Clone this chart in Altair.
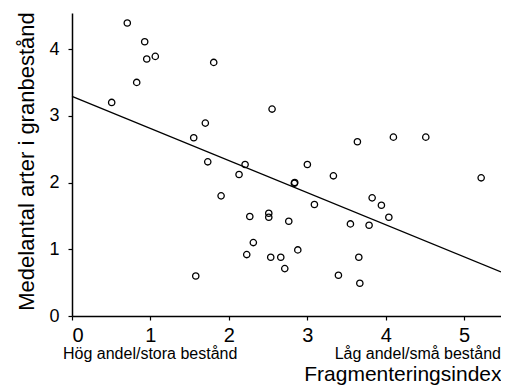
import altair as alt
import pandas as pd

# Scatter points
xs = [0.705, 0.927, 0.953, 1.062, 0.825, 0.506, 1.807, 2.551, 1.700, 1.552,
      1.731, 2.207, 3.001, 3.639, 4.098, 4.511, 5.217, 2.130, 1.901, 2.267,
      2.509, 2.509, 2.764, 2.312, 2.228, 2.534, 2.662, 2.713, 1.578, 3.333,
      2.835, 2.840, 3.827, 3.945, 3.091, 4.040, 3.550, 3.788, 2.879, 3.657,
      3.397, 3.670]
ys = [4.39, 4.11, 3.85, 3.89, 3.50, 3.20, 3.80, 3.10, 2.89, 2.67,
      2.31, 2.27, 2.27, 2.61, 2.68, 2.68, 2.07, 2.12, 1.80, 1.49,
      1.54, 1.48, 1.42, 1.10, 0.92, 0.88, 0.88, 0.71, 0.60, 2.10,
      1.99, 2.00, 1.77, 1.66, 1.67, 1.48, 1.38, 1.36, 0.99, 0.88,
      0.61, 0.49]

# Regression line end points
line_x = [0.0, 5.47]
line_y = [3.29, 0.66]

sub_labels = ["Hög andel/stora bestånd", "Låg andel/små bestånd"]
sub_x = [0.0, 5.47]

x_title = "Fragmenteringsindex"
y_title = "Medelantal arter i granbestånd"
x_ticks = [0, 1, 2, 3, 4, 5]
y_ticks = [0, 1, 2, 3, 4]

FONT = "Liberation Sans"
W, H = 429, 303

pts = pd.DataFrame({"x": xs, "y": ys})
ln = pd.DataFrame({"x": line_x, "y": line_y})
lab_left = pd.DataFrame({"x": [sub_x[0]], "t": [sub_labels[0]]})
lab_right = pd.DataFrame({"x": [sub_x[1]], "t": [sub_labels[1]]})

xscale = alt.Scale(domain=[0, 5.47], nice=False, zero=False)
yscale = alt.Scale(domain=[0, 4.54], nice=False, zero=False)

xaxis = alt.Axis(values=x_ticks, format="d", grid=False, domainColor="black",
                 domainWidth=1.5, tickColor="black", tickSize=4, tickWidth=1.2,
                 labelFont=FONT, labelFontSize=20, labelColor="black", labelPadding=5,
                 title=x_title, titleFont=FONT, titleFontSize=21, titleFontWeight="normal",
                 titleColor="black", titleAlign="right", titleAnchor="end",
                 titleX=W, titleY=64, titleBaseline="alphabetic")
yaxis = alt.Axis(values=y_ticks, format="d", grid=False, domainColor="black",
                 domainWidth=1.5, tickColor="black", tickSize=4, tickWidth=1.2,
                 labelFont=FONT, labelFontSize=18, labelColor="black", labelPadding=9,
                 title=y_title, titleFont=FONT, titleFontSize=22, titleFontWeight="normal",
                 titleColor="black", titleX=-39, titleY=148, titleAngle=-90,
                 titleBaseline="alphabetic", titleAlign="center")

points = alt.Chart(pts).mark_point(shape="circle", filled=False, color="black",
                                   size=40, strokeWidth=1.3, opacity=1).encode(
    x=alt.X("x:Q", scale=xscale, axis=xaxis),
    y=alt.Y("y:Q", scale=yscale, axis=yaxis),
)

line = alt.Chart(ln).mark_line(color="black", strokeWidth=1.3).encode(
    x=alt.X("x:Q", scale=xscale),
    y=alt.Y("y:Q", scale=yscale),
)

t_left = alt.Chart(lab_left).mark_text(font=FONT, fontSize=16, align="left",
                                       baseline="alphabetic", color="black", dx=-9).encode(
    x=alt.X("x:Q", scale=xscale), y=alt.value(H + 43), text="t:N")
t_right = alt.Chart(lab_right).mark_text(font=FONT, fontSize=16, align="right",
                                         baseline="alphabetic", color="black", dx=0).encode(
    x=alt.X("x:Q", scale=xscale), y=alt.value(H + 43), text="t:N")

chart = alt.layer(line, points, t_left, t_right).properties(
    width=W, height=H,
    autosize=alt.AutoSizeParams(type="none"),
    padding={"left": 64, "top": 5, "right": 0, "bottom": 72},
    background="white",
).configure_view(stroke=None)

chart.save("out.html", embed_options={"renderer": "svg", "actions": False})
